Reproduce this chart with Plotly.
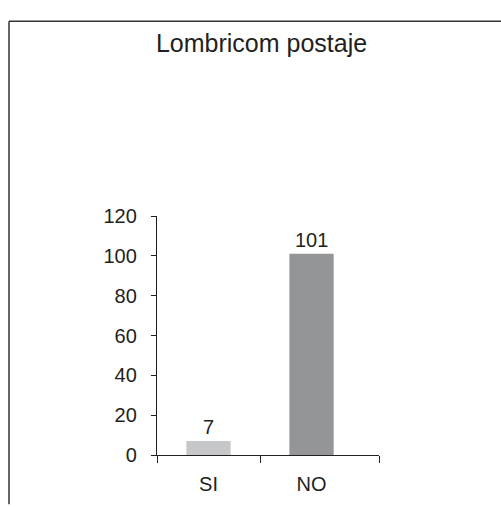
import plotly.graph_objects as go

categories = ["SI", "NO"]
values = [7, 101]
bar_colors = ["#c6c7c9", "#939598"]
title_text = "Lombricom postaje"
y_ticks = [0, 20, 40, 60, 80, 100, 120]

W, H = 501, 507
ML, MR, MT, MB = 157, 122, 216, 43
pw, ph = W - ML - MR, H - MT - MB

def px_x(px):
    return (px - ML) / pw

def px_y(py):
    return (H - MB - py) / ph

xs = list(range(len(categories)))
ink = "#231f20"

fig = go.Figure()
fig.add_trace(go.Bar(
    x=xs, y=values, width=0.43,
    marker=dict(color=bar_colors, line=dict(width=0)),
    hoverinfo="skip",
))

for x, v in zip(xs, values):
    fig.add_annotation(x=x, y=v, text=str(v), showarrow=False,
                       yanchor="bottom", yshift=1,
                       font=dict(size=20, color=ink, family="Liberation Sans, Arial, sans-serif"))

# chart frame (top and left edges visible)
frame = dict(color="#333333", width=1.5)
fig.add_shape(type="line", xref="paper", yref="paper",
              x0=px_x(9), x1=px_x(510), y0=px_y(14), y1=px_y(14), line=frame)
fig.add_shape(type="line", xref="paper", yref="paper",
              x0=px_x(9), x1=px_x(9), y0=px_y(14), y1=px_y(515), line=frame)

fig.update_layout(
    width=W, height=H,
    margin=dict(l=ML, r=MR, t=MT, b=MB),
    plot_bgcolor="white", paper_bgcolor="white",
    showlegend=False,
    font=dict(family="Liberation Sans, Arial, sans-serif", size=20, color=ink),
    title=dict(text=title_text, xref="container", yref="container",
               x=261.5 / W, xanchor="center", y=1 - 34 / H, yanchor="top",
               font=dict(size=25, color=ink)),
    xaxis=dict(
        range=[-0.5, 1.655], showgrid=False, zeroline=False,
        showline=True, linecolor=ink, linewidth=1.3,
        tickmode="array", tickvals=xs, ticktext=categories, ticks="",
        ticklabelstandoff=11,
        minor=dict(tickmode="array", tickvals=[-0.5, 0.5, 1.655],
                   ticks="outside", ticklen=7, tickcolor=ink, tickwidth=1.3),
        fixedrange=True,
    ),
    yaxis=dict(
        range=[0, 120], showgrid=False, zeroline=False,
        showline=True, linecolor=ink, linewidth=1.3,
        tickmode="array", tickvals=y_ticks,
        ticks="outside", ticklen=5, tickcolor=ink, tickwidth=1.3,
        ticklabelstandoff=10,
        fixedrange=True,
    ),
)

fig.write_html(
    "out.html",
    config={"displayModeBar": False},
    post_script="document.body.style.margin='0';document.body.style.overflow='hidden';",
)
